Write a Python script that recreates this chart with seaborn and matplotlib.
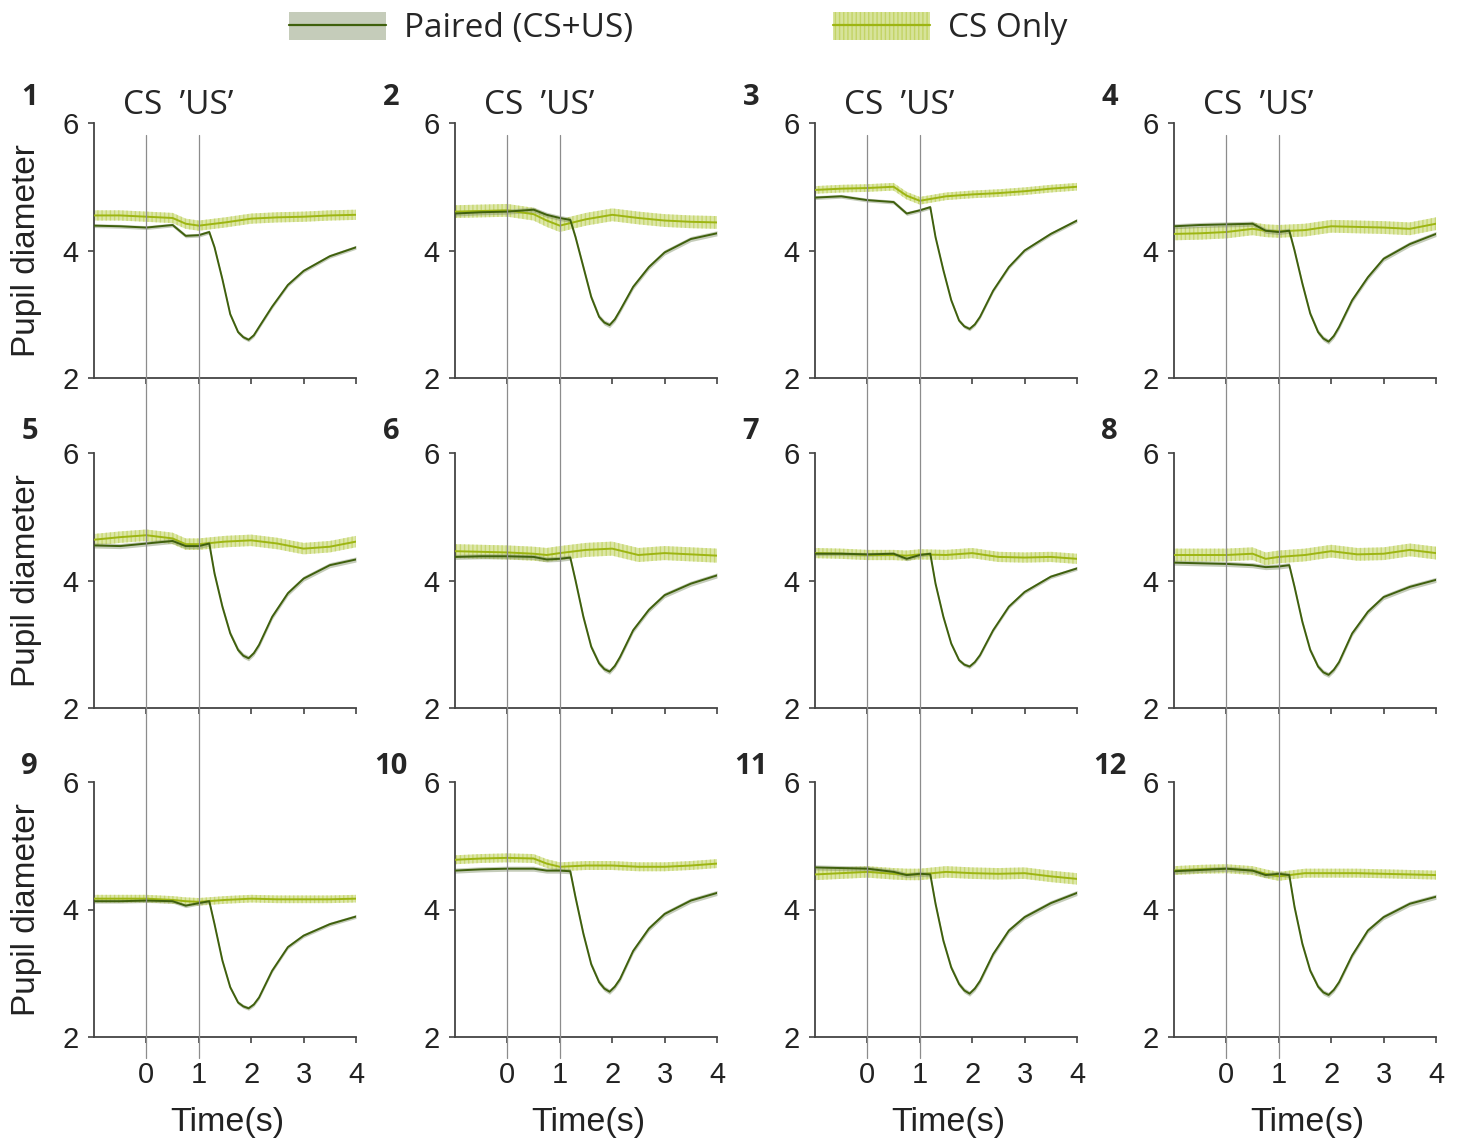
import numpy as np
import pandas as pd
import seaborn as sns
import matplotlib
matplotlib.use("Agg")
import matplotlib.pyplot as plt
from matplotlib.lines import Line2D
from matplotlib.patches import Patch
from matplotlib.transforms import blended_transform_factory

# ============================================================
# Data (pupil diameter, per subject)
# ============================================================

time_cs = [-1, -0.5, 0, 0.5, 0.75, 1.0, 1.5, 2.0, 2.5, 3.0, 3.5, 4.0]
time_paired = [-1, -0.5, 0, 0.5, 0.75, 1.0, 1.2, 1.3, 1.45, 1.6, 1.75,
               1.85, 1.95, 2.05, 2.15, 2.4, 2.7, 3.0, 3.5, 4.0]

cs_only = [
    [4.55, 4.55, 4.53, 4.51, 4.42, 4.39, 4.44, 4.50, 4.52, 4.53, 4.55, 4.56],
    [4.61, 4.62, 4.63, 4.57, 4.47, 4.39, 4.49, 4.56, 4.51, 4.47, 4.45, 4.44],
    [4.95, 4.97, 4.98, 5.00, 4.86, 4.78, 4.85, 4.88, 4.90, 4.93, 4.97, 5.00],
    [4.26, 4.27, 4.29, 4.34, 4.31, 4.30, 4.32, 4.38, 4.37, 4.36, 4.34, 4.42],
    [4.64, 4.68, 4.71, 4.66, 4.57, 4.57, 4.61, 4.63, 4.58, 4.50, 4.53, 4.61],
    [4.46, 4.45, 4.44, 4.42, 4.40, 4.43, 4.48, 4.50, 4.40, 4.43, 4.41, 4.39],
    [4.43, 4.42, 4.40, 4.40, 4.39, 4.41, 4.40, 4.43, 4.37, 4.36, 4.37, 4.34],
    [4.40, 4.40, 4.40, 4.42, 4.34, 4.37, 4.40, 4.46, 4.41, 4.42, 4.48, 4.43],
    [4.17, 4.17, 4.17, 4.15, 4.13, 4.12, 4.15, 4.17, 4.16, 4.16, 4.16, 4.17],
    [4.78, 4.80, 4.81, 4.80, 4.72, 4.67, 4.69, 4.69, 4.67, 4.67, 4.69, 4.72],
    [4.55, 4.57, 4.59, 4.56, 4.55, 4.55, 4.59, 4.57, 4.56, 4.57, 4.52, 4.48],
    [4.61, 4.63, 4.64, 4.61, 4.56, 4.52, 4.57, 4.57, 4.57, 4.56, 4.55, 4.54],
]

paired = [
    [4.39, 4.38, 4.36, 4.40, 4.23, 4.24, 4.29, 4.05, 3.55, 3.00, 2.72, 2.64, 2.60, 2.67, 2.80, 3.12, 3.46, 3.68, 3.91, 4.05],
    [4.58, 4.60, 4.61, 4.64, 4.56, 4.51, 4.48, 4.21, 3.74, 3.27, 2.96, 2.87, 2.83, 2.92, 3.06, 3.43, 3.74, 3.97, 4.18, 4.27],
    [4.83, 4.85, 4.79, 4.76, 4.58, 4.63, 4.68, 4.21, 3.69, 3.22, 2.90, 2.81, 2.77, 2.84, 2.96, 3.37, 3.74, 4.00, 4.26, 4.47],
    [4.38, 4.40, 4.41, 4.42, 4.31, 4.29, 4.31, 4.00, 3.48, 3.01, 2.72, 2.62, 2.57, 2.66, 2.80, 3.22, 3.58, 3.87, 4.10, 4.26],
    [4.55, 4.54, 4.58, 4.62, 4.54, 4.54, 4.58, 4.11, 3.59, 3.17, 2.91, 2.82, 2.78, 2.86, 2.99, 3.43, 3.80, 4.03, 4.24, 4.33],
    [4.37, 4.38, 4.38, 4.37, 4.33, 4.34, 4.36, 4.00, 3.43, 2.96, 2.70, 2.61, 2.57, 2.66, 2.80, 3.22, 3.54, 3.77, 3.95, 4.08],
    [4.42, 4.42, 4.41, 4.42, 4.34, 4.40, 4.42, 3.95, 3.43, 3.01, 2.75, 2.68, 2.65, 2.72, 2.83, 3.22, 3.59, 3.82, 4.06, 4.19],
    [4.28, 4.27, 4.26, 4.24, 4.21, 4.22, 4.24, 3.90, 3.35, 2.91, 2.65, 2.56, 2.52, 2.60, 2.72, 3.17, 3.51, 3.74, 3.90, 4.01],
    [4.13, 4.13, 4.14, 4.13, 4.06, 4.10, 4.13, 3.77, 3.20, 2.78, 2.54, 2.48, 2.45, 2.51, 2.62, 3.04, 3.41, 3.59, 3.77, 3.89],
    [4.61, 4.63, 4.64, 4.64, 4.61, 4.61, 4.60, 4.19, 3.62, 3.14, 2.86, 2.76, 2.71, 2.79, 2.91, 3.35, 3.70, 3.93, 4.14, 4.26],
    [4.66, 4.65, 4.64, 4.59, 4.54, 4.56, 4.55, 4.09, 3.51, 3.09, 2.83, 2.73, 2.68, 2.76, 2.88, 3.30, 3.67, 3.88, 4.10, 4.26],
    [4.60, 4.62, 4.64, 4.61, 4.54, 4.56, 4.54, 4.04, 3.46, 3.04, 2.79, 2.70, 2.66, 2.74, 2.86, 3.28, 3.67, 3.88, 4.09, 4.20],
]

# half-width of the error band (approx. SEM), one per panel
cs_sem = [0.08, 0.10, 0.06, 0.10, 0.09, 0.11, 0.08, 0.10, 0.06, 0.07, 0.09, 0.07]
paired_sem = [0.03, 0.04, 0.03, 0.04, 0.04, 0.04, 0.03, 0.04, 0.03, 0.04, 0.04, 0.04]

panel_labels = [str(i) for i in range(1, 13)]
conditions = ["Paired (CS+US)", "CS Only"]
x_ticks = [0, 1, 2, 3, 4]
y_ticks = [2, 4, 6]

# ============================================================
# Style
# ============================================================

sns.set_style("ticks")
plt.rcParams['font.family'] = ['Liberation Sans', 'DejaVu Sans']
plt.rcParams['hatch.linewidth'] = 1.0

col_paired = "#3f600d"
col_cs = "#9db512"
band_cs = "#d7e39a"
hatch_cs = "#c3d466"
band_paired = "#7f8f66"
axis_col = "#444444"
title_font = ['Open Sans', 'DejaVu Sans']

W, H = 1462, 1141
fig = plt.figure(figsize=(W / 100, H / 100), dpi=100)

lefts = [94, 455, 815, 1174]
tops = [123, 453, 782]
ax_w, ax_h = 262, 255
number_y = [1.10, 1.083, 1.06]

axes = []
for i in range(12):
    r, c = divmod(i, 4)
    ax = fig.add_axes([lefts[c] / W, 1 - (tops[r] + ax_h) / H, ax_w / W, ax_h / H])
    axes.append(ax)

    df = pd.concat([
        pd.DataFrame({"time": time_paired, "pupil": paired[i], "condition": conditions[0]}),
        pd.DataFrame({"time": time_cs, "pupil": cs_only[i], "condition": conditions[1]}),
    ])

    # error bands
    cs = np.array(cs_only[i])
    ax.fill_between(time_cs, cs - cs_sem[i], cs + cs_sem[i], facecolor=band_cs,
                    edgecolor=hatch_cs, hatch='||||', linewidth=0, alpha=0.85, zorder=1)
    pr = np.array(paired[i])
    ax.fill_between(time_paired, pr - paired_sem[i], pr + paired_sem[i],
                    color=band_paired, alpha=0.45, linewidth=0, zorder=2)

    sns.lineplot(data=df, x="time", y="pupil", hue="condition",
                 palette={conditions[0]: col_paired, conditions[1]: col_cs},
                 hue_order=[conditions[1], conditions[0]],
                 errorbar=None, legend=False, linewidth=1.4, ax=ax, zorder=3)

    ax.set_xlim(-1, 4)
    ax.set_ylim(2, 6)
    ax.set_xticks(x_ticks)
    ax.set_yticks(y_ticks)
    sns.despine(ax=ax)
    for sp in ["left", "bottom"]:
        ax.spines[sp].set_color(axis_col)
        ax.spines[sp].set_linewidth(1.3)
    ax.tick_params(axis="both", colors=axis_col, labelcolor="#222222",
                   labelsize=21, length=4, width=1.2, direction="out")
    ax.tick_params(axis="x", pad=13)
    ax.tick_params(axis="y", pad=7)

    if r < 2:
        ax.set_xticklabels([])
        ax.set_xlabel("")
    else:
        ax.set_xlabel("Time(s)", fontsize=24.5, color="#222222")
        ax.xaxis.set_label_coords(0.51, -0.275)
    if c == 0:
        ax.set_ylabel("Pupil diameter", fontsize=24, color="#222222")
        ax.yaxis.set_label_coords(-0.2, 0.5)
    else:
        ax.set_ylabel("")

    ax.text(-0.245, number_y[r], panel_labels[i], transform=ax.transAxes,
            ha="center", va="center", fontsize=21, fontweight="bold",
            family=title_font)
    if r == 0:
        ax.text(0.32, 1.07, "CS  \u2019US\u2019", transform=ax.transAxes,
                ha="center", va="center", fontsize=24, family=title_font)

# CS and US onset markers spanning each column
for c in range(4):
    ax = axes[8 + c]
    trans = blended_transform_factory(ax.transData, fig.transFigure)
    for onset in [0, 1]:
        fig.add_artist(Line2D([onset, onset], [1 - 135 / H, 1 - 1058 / H],
                              transform=trans, color="#8c8c8c", linewidth=0.9,
                              zorder=1))

# legend
h_paired = (Patch(facecolor=band_paired, alpha=0.45, linewidth=0),
            Line2D([], [], color=col_paired, linewidth=1.6))
h_cs = (Patch(facecolor=band_cs, edgecolor=hatch_cs, hatch='||||', linewidth=0),
        Line2D([], [], color=col_cs, linewidth=1.6))
fig.legend([h_paired, h_cs], conditions, loc="center", ncol=2,
           bbox_to_anchor=(0.464, 0.975), frameon=False,
           prop={"family": title_font, "size": 24},
           handlelength=2.9, handleheight=0.9, handletextpad=0.55,
           columnspacing=6.0)

fig.savefig("out.png", dpi=100)
